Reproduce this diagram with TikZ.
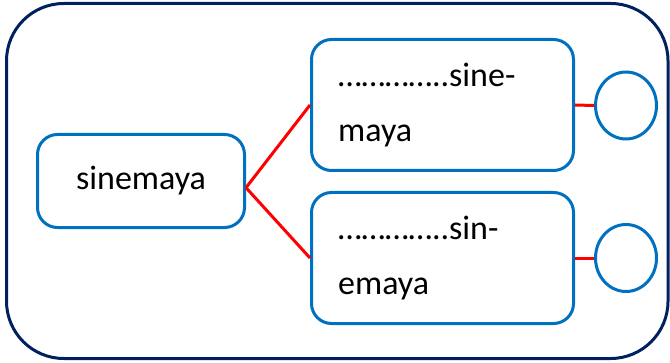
\documentclass[tikz,border=0pt]{standalone}
\usepackage{fontspec}
\setmainfont{Carlito}
\usetikzlibrary{shapes.geometric}

\definecolor{navyline}{RGB}{0,32,96}
\definecolor{boxblue}{RGB}{0,112,192}
\definecolor{linkred}{RGB}{255,0,0}

\tikzset{every picture/.style={line width=0.75pt}}
\tikzset{
  wordbox/.style={draw=boxblue, line width=2.25pt, rounded corners=15pt, fill=white},
  pairbox/.style={wordbox, minimum width=196.5pt, minimum height=98.25pt, inner xsep=20pt, text width=156.5pt, align=left, font=\fontsize{25.5}{41}\selectfont},
  endcircle/.style={draw=boxblue, line width=2.25pt, ellipse, inner sep=0pt, minimum width=45.75pt, minimum height=50.25pt},
  redlink/.style={draw=linkred, line width=2.25pt}
}

\begin{document}
\begin{tikzpicture}[x=0.75pt,y=0.75pt,yscale=-1,xscale=1]
\useasboundingbox (0,0) rectangle (670,363);

%Rounded Rect [outer frame]
\draw [color=navyline, line width=2.25pt, rounded corners=43pt] (6.5,3.5) rectangle (668,358.5) ;

% Text Node
\node [wordbox, minimum width=155.25pt, minimum height=69.75pt, font=\fontsize{25.5}{41}\selectfont] (word) at (141,181) {sinemaya};
% Text Node
\node [pairbox] (upper) at (442.5,105) {…………..sine-\\maya};
% Text Node
\node [pairbox] (lower) at (442.5,258) {…………..sin-\\emaya};

%Shape: Circle
\node [endcircle] (upperring) at (626,105.5) {};
%Shape: Circle
\node [endcircle] (lowerring) at (626,258) {};

%Straight Lines
\draw [redlink]   ([yshift=5pt]word.east) -- (upper.west) ;
\draw [redlink]   ([yshift=5pt]word.east) -- (lower.west) ;
\draw [redlink]   (upper.east) -- (upperring.west) ;
\draw [redlink]   (lower.east) -- (lowerring.west) ;

\end{tikzpicture}
\end{document}
